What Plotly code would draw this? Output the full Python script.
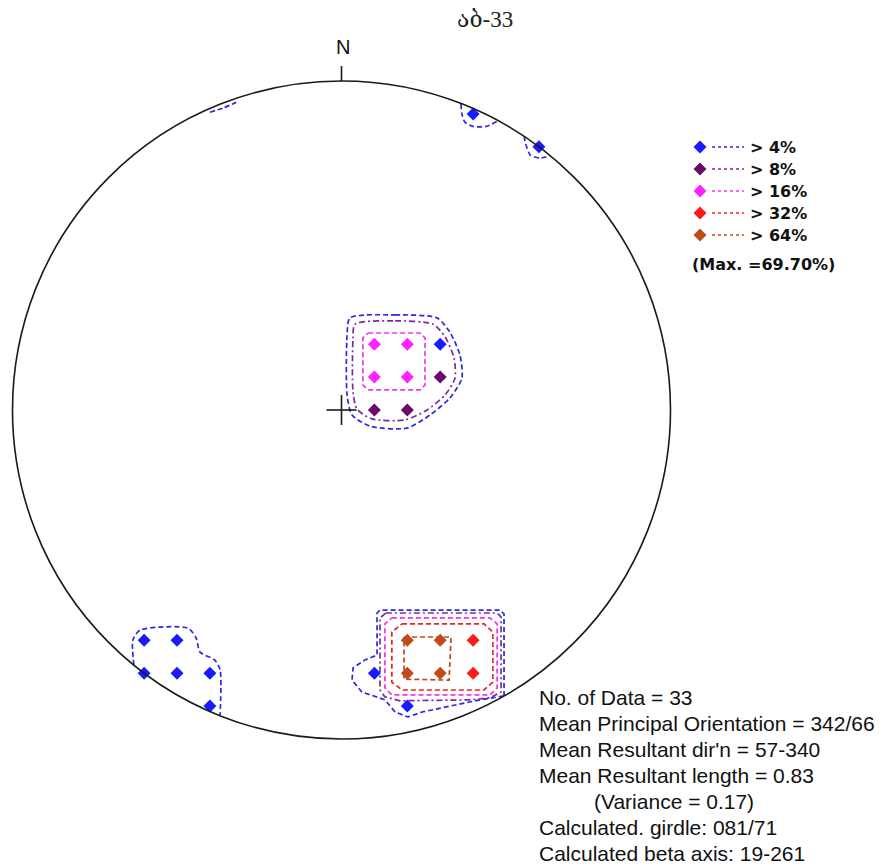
import plotly.graph_objects as go

# ---------------- data (stereonet coordinates: unit primitive circle, x = east, y = north)
title_text = "აბ-33"
level_labels = ["> 4%", "> 8%", "> 16%", "> 32%", "> 64%"]
level_colors = ["#1a1aff", "#6a0a6a", "#ff22ff", "#ff1a1a", "#c04a1a"]
max_text = "(Max. =69.70%)"

pts_4_x = [0.4, 0.6, 0.3, -0.6, -0.5, -0.6, -0.5, -0.4, -0.4, 0.1, 0.2]
pts_4_y = [0.9, 0.8, 0.2, -0.7, -0.7, -0.8, -0.8, -0.8, -0.9, -0.8, -0.9]
pts_8_x = [0.3, 0.1, 0.2]
pts_8_y = [0.1, 0.0, 0.0]
pts_16_x = [0.1, 0.2, 0.1, 0.2]
pts_16_y = [0.2, 0.2, 0.1, 0.1]
pts_32_x = [0.4, 0.4]
pts_32_y = [-0.7, -0.8]
pts_64_x = [0.2, 0.3, 0.2, 0.3]
pts_64_y = [-0.7, -0.7, -0.8, -0.8]

# contour outlines
c_center_4_x = [0.026, 0.163, 0.290, 0.329, 0.360, 0.366, 0.329, 0.269, 0.199, 0.087, 0.032, 0.017, 0.017, 0.026]
c_center_4_y = [0.280, 0.289, 0.280, 0.237, 0.167, 0.097, 0.036, -0.015, -0.055, -0.049, -0.015, 0.046, 0.228, 0.280]
c_center_8_x = [0.041, 0.163, 0.278, 0.315, 0.342, 0.345, 0.315, 0.260, 0.193, 0.093, 0.047, 0.035, 0.035, 0.041]
c_center_8_y = [0.261, 0.271, 0.261, 0.222, 0.158, 0.097, 0.046, 0.000, -0.030, -0.027, 0.003, 0.055, 0.219, 0.261]
c_center_16_x = [0.081, 0.239, 0.254, 0.254, 0.239, 0.081, 0.065, 0.065, 0.081]
c_center_16_y = [0.234, 0.234, 0.219, 0.076, 0.061, 0.061, 0.076, 0.219, 0.234]

c_se_4_x = [0.494, 0.494, 0.482, 0.117, 0.108, 0.108, 0.071, 0.035, 0.032, 0.062, 0.132, 0.163, 0.202, 0.245, 0.330, 0.421, 0.494]
c_se_4_y = [-0.869, -0.620, -0.608, -0.608, -0.617, -0.745, -0.760, -0.784, -0.821, -0.857, -0.881, -0.918, -0.933, -0.918, -0.900, -0.881, -0.869]
c_se_8_x = [0.135, 0.473, 0.485, 0.485, 0.451, 0.391, 0.178, 0.132, 0.117, 0.117, 0.135]
c_se_8_y = [-0.617, -0.617, -0.629, -0.857, -0.875, -0.881, -0.884, -0.872, -0.851, -0.632, -0.617]
c_se_16_x = [0.153, 0.451, 0.473, 0.473, 0.451, 0.153, 0.132, 0.132, 0.153]
c_se_16_y = [-0.632, -0.632, -0.650, -0.845, -0.866, -0.866, -0.845, -0.650, -0.632]
c_se_32_x = [0.184, 0.433, 0.460, 0.460, 0.433, 0.184, 0.153, 0.153, 0.184]
c_se_32_y = [-0.650, -0.650, -0.675, -0.827, -0.851, -0.851, -0.827, -0.675, -0.650]
c_se_64_x = [0.190, 0.333, 0.327, 0.190, 0.190]
c_se_64_y = [-0.690, -0.690, -0.821, -0.818, -0.690]

c_sw_4_x = [-0.631, -0.634, -0.612, -0.467, -0.442, -0.430, -0.385, -0.369, -0.369]
c_sw_4_y = [-0.775, -0.699, -0.669, -0.663, -0.693, -0.736, -0.760, -0.790, -0.927]
c_ne1_4_x = [0.363, 0.366, 0.375, 0.400, 0.440, 0.476]
c_ne1_4_y = [0.930, 0.900, 0.875, 0.862, 0.862, 0.879]
c_ne2_4_x = [0.555, 0.560, 0.574, 0.605, 0.634]
c_ne2_4_y = [0.832, 0.808, 0.775, 0.766, 0.773]
c_nw_4_x = [-0.400, -0.360, -0.320]
c_nw_4_y = [0.905, 0.918, 0.935]

stats_lines = [
    "No. of Data = 33",
    "Mean Principal Orientation = 342/66",
    "Mean Resultant dir'n = 57-340",
    "Mean Resultant length = 0.83",
    "(Variance = 0.17)",
    "Calculated. girdle: 081/71",
    "Calculated beta axis: 19-261",
]

# ---------------- layout geometry (pixels)
W, H = 889, 867
CX, CY, R = 341.5, 410.0, 329.0


def px_u(px):
    return (px - CX) / R


def py_v(py):
    return (CY - py) / R


line_colors = ["#2a2ae0", "#7a2a9a", "#ee33ee", "#ee2222", "#b8501e"]

fig = go.Figure()

contours = [
    (0, c_center_4_x, c_center_4_y, "spline"),
    (1, c_center_8_x, c_center_8_y, "spline"),
    (2, c_center_16_x, c_center_16_y, "linear"),
    (0, c_se_4_x, c_se_4_y, "linear"),
    (1, c_se_8_x, c_se_8_y, "linear"),
    (2, c_se_16_x, c_se_16_y, "linear"),
    (3, c_se_32_x, c_se_32_y, "linear"),
    (4, c_se_64_x, c_se_64_y, "linear"),
    (0, c_sw_4_x, c_sw_4_y, "spline"),
    (0, c_ne1_4_x, c_ne1_4_y, "spline"),
    (0, c_ne2_4_x, c_ne2_4_y, "spline"),
    (0, c_nw_4_x, c_nw_4_y, "spline"),
]
dashes = ["5px,3px", "6px,3px,2px,3px", "5px,3px", "5px,3px", "5px,3px"]
for lvl, xs, ys, shp in contours:
    fig.add_trace(go.Scatter(
        x=xs, y=ys, mode="lines",
        line=dict(color=line_colors[lvl], width=1.7, dash=dashes[lvl], shape=shp, smoothing=0.7),
        hoverinfo="skip", showlegend=False))

point_sets = [(pts_4_x, pts_4_y), (pts_8_x, pts_8_y), (pts_16_x, pts_16_y),
              (pts_32_x, pts_32_y), (pts_64_x, pts_64_y)]
for i, (xs, ys) in enumerate(point_sets):
    fig.add_trace(go.Scatter(
        x=xs, y=ys, mode="markers",
        marker=dict(symbol="diamond", size=10, color=level_colors[i], line=dict(width=0)),
        hoverinfo="skip", showlegend=False))

# legend (custom, drawn in plot coordinates)
annotations = []
leg_y0, leg_dy = 147, 22
for i, lab in enumerate(level_labels):
    yy = py_v(leg_y0 + i * leg_dy)
    fig.add_trace(go.Scatter(
        x=[px_u(712), px_u(744)], y=[yy, yy], mode="lines",
        line=dict(color=line_colors[i], width=1.5, dash="3px,3px"),
        hoverinfo="skip", showlegend=False))
    fig.add_trace(go.Scatter(
        x=[px_u(700)], y=[yy], mode="markers",
        marker=dict(symbol="diamond", size=10, color=level_colors[i]),
        hoverinfo="skip", showlegend=False))
    annotations.append(dict(x=px_u(748), y=yy, xref="x", yref="y", text="<b>%s</b>" % lab,
                            showarrow=False, xanchor="left", yanchor="middle",
                            font=dict(family="DejaVu Sans", size=16, color="#111")))
annotations.append(dict(x=px_u(690), y=py_v(264), xref="x", yref="y", text="<b>%s</b>" % max_text,
                        showarrow=False, xanchor="left", yanchor="middle",
                        font=dict(family="DejaVu Sans", size=16, color="#111")))

# stats text
stats_y = [697, 723, 749, 775, 801, 827, 853]
for i, t in enumerate(stats_lines):
    xx = 592 if t.startswith("(") else 537
    annotations.append(dict(x=px_u(xx), y=py_v(stats_y[i]), xref="x", yref="y", text=t,
                            showarrow=False, xanchor="left", yanchor="middle",
                            font=dict(family="Liberation Sans, Arial", size=21, color="#111")))

# title and N
annotations.append(dict(x=px_u(485), y=py_v(19), xref="x", yref="y", text=title_text,
                        showarrow=False, xanchor="center", yanchor="middle",
                        font=dict(family="Liberation Serif, DejaVu Serif, serif", size=23, color="#222")))
annotations.append(dict(x=px_u(343), y=py_v(47), xref="x", yref="y", text="N",
                        showarrow=False, xanchor="center", yanchor="middle",
                        font=dict(family="Liberation Sans, Arial", size=20, color="#111")))

shapes = [
    dict(type="circle", xref="x", yref="y", x0=-1, y0=-1, x1=1, y1=1,
         line=dict(color="#1a1a1a", width=1.6)),
    dict(type="line", xref="x", yref="y", x0=0, y0=1, x1=0, y1=1 + 15 / R,
         line=dict(color="#1a1a1a", width=1.6)),
    dict(type="line", xref="x", yref="y", x0=-15 / R, y0=0, x1=15 / R, y1=0,
         line=dict(color="#1a1a1a", width=1.6)),
    dict(type="line", xref="x", yref="y", x0=0, y0=-15 / R, x1=0, y1=15 / R,
         line=dict(color="#1a1a1a", width=1.6)),
]

fig.update_layout(
    width=W, height=H, autosize=False,
    margin=dict(l=0, r=0, t=0, b=0, pad=0),
    paper_bgcolor="white", plot_bgcolor="white",
    xaxis=dict(range=[px_u(0), px_u(W)], visible=False, fixedrange=True),
    yaxis=dict(range=[py_v(H), py_v(0)], visible=False, fixedrange=True),
    shapes=shapes, annotations=annotations, showlegend=False,
)

fig.write_html("out.html", config={"displayModeBar": False},
               post_script="document.body.style.margin='0';document.body.style.overflow='hidden';")
